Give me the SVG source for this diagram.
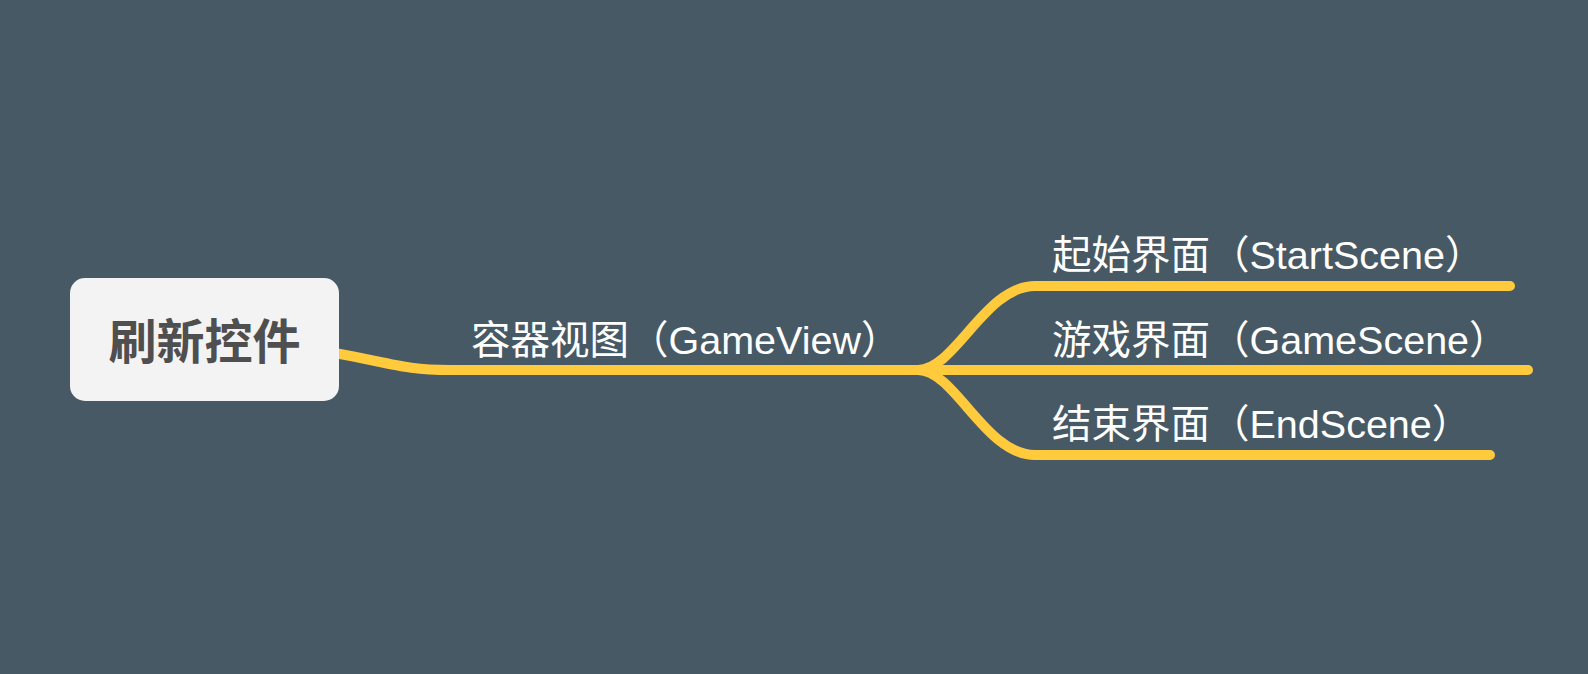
<svg xmlns="http://www.w3.org/2000/svg" width="1588" height="674" viewBox="0 0 1588 674">
<style>
.bg{fill:#475965}
.conn{fill:none;stroke:#FFCA3C;stroke-width:10;stroke-linecap:round;stroke-linejoin:round}
.root-box{fill:#f3f3f3}
.root-text{font-family:"Liberation Sans","Noto Sans CJK SC",sans-serif;font-weight:700;font-size:48px;fill:#4f4f4f}
.label{font-family:"Liberation Sans","Noto Sans CJK SC",sans-serif;font-size:39.5px;fill:#ffffff}
</style>
<rect class="bg" x="0" y="0" width="1588" height="674"/>
<g id="connectors">
<path class="conn" d="M 330 352 C 395 364, 405 370, 450 370 L 925 370"/>
<path class="conn" d="M 918 370 C 955 370, 985 286, 1035 286 L 1510 286"/>
<path class="conn" d="M 918 370 L 1528 370"/>
<path class="conn" d="M 918 370 C 955 370, 985 455, 1035 455 L 1490 455"/>
</g>
<g id="root">
<rect class="root-box" x="70" y="278" width="269" height="123" rx="15" ry="15"/>
<text class="root-text" x="204.5" y="359" text-anchor="middle">刷新控件</text>
</g>
<g id="gameview">
<text class="label" x="471" y="354">容器视图（GameView）</text>
</g>
<g id="startscene">
<text class="label" x="1052" y="269">起始界面（StartScene）</text>
</g>
<g id="gamescene">
<text class="label" x="1052" y="354">游戏界面（GameScene）</text>
</g>
<g id="endscene">
<text class="label" x="1052" y="438">结束界面（EndScene）</text>
</g>
</svg>
